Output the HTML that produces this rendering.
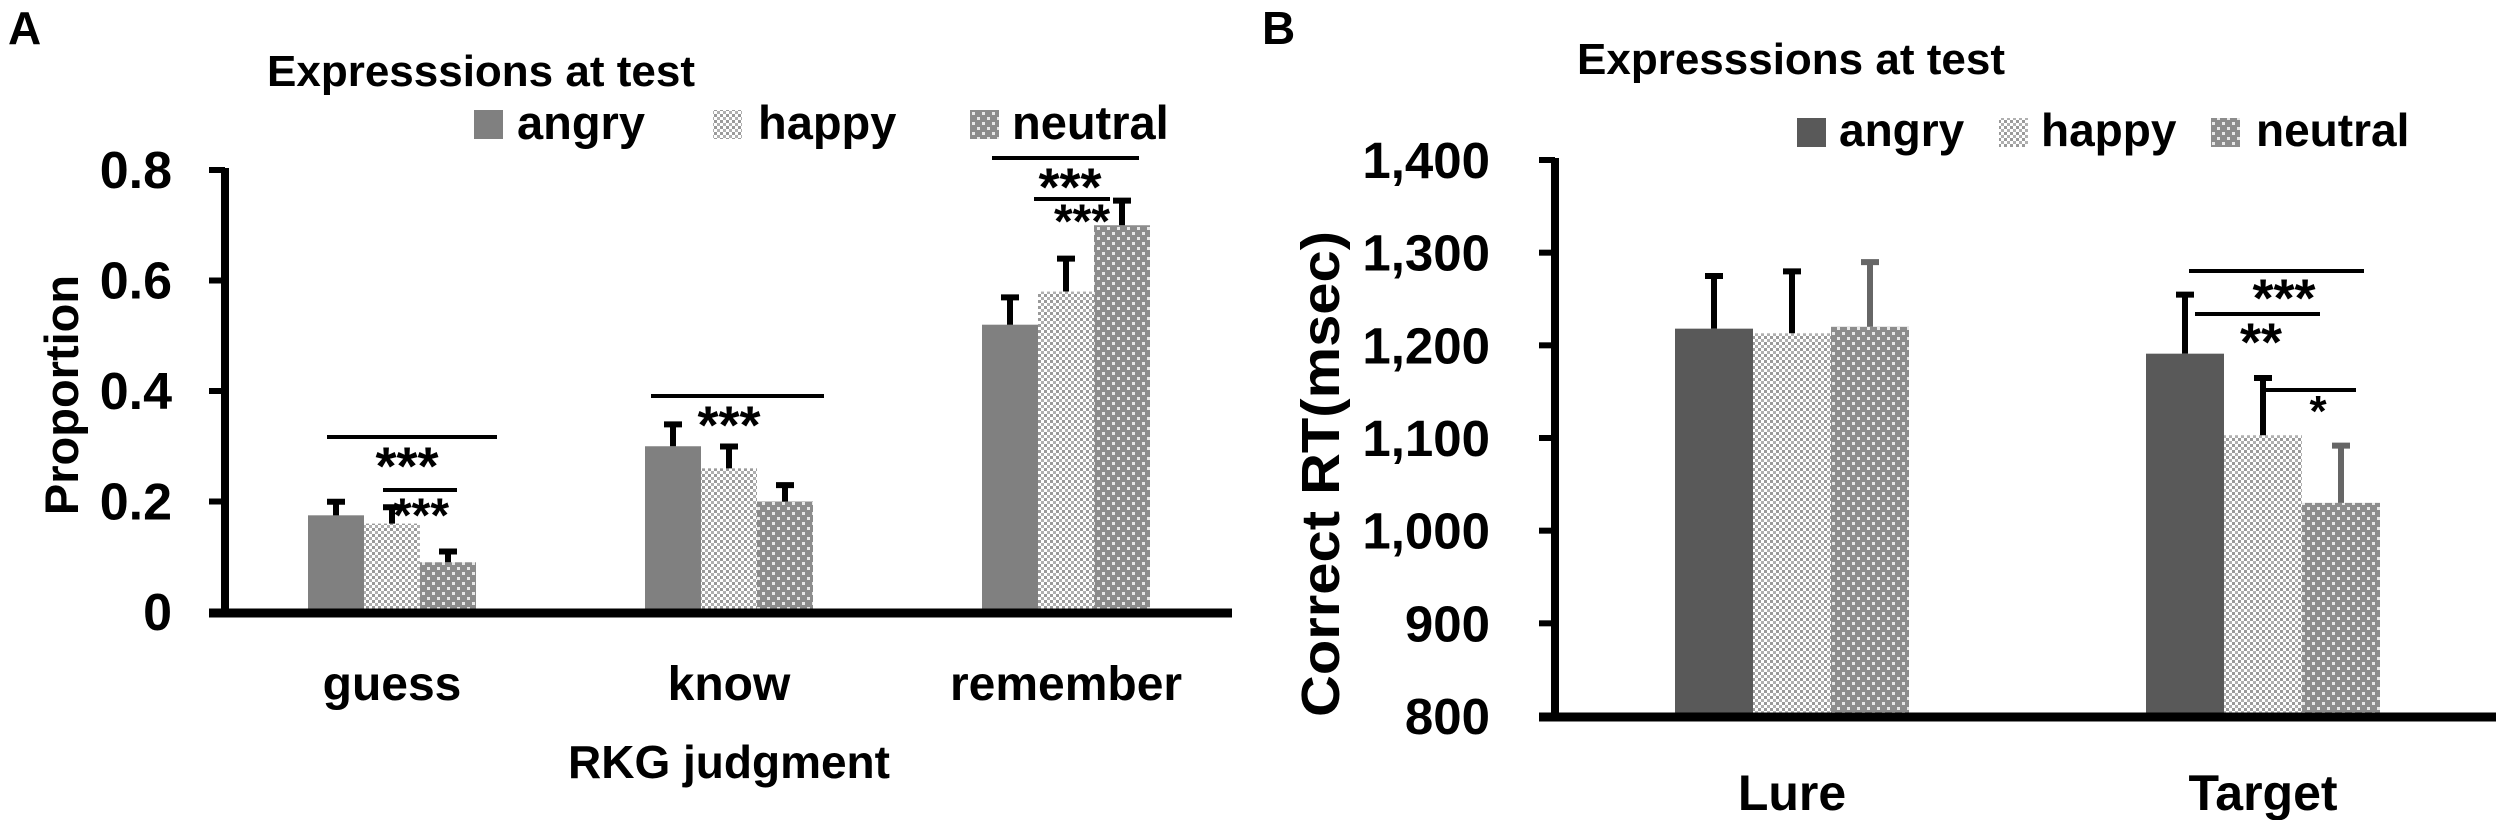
<!DOCTYPE html>
<html><head><meta charset="utf-8"><style>
html,body{margin:0;padding:0;background:#fff}
svg{display:block}
text{font-family:"Liberation Sans",sans-serif;font-weight:bold;fill:#000}
</style></head><body>
<svg id="c" width="2500" height="820" xmlns="http://www.w3.org/2000/svg">
<defs>
<pattern id="pHappy" width="6" height="6" patternUnits="userSpaceOnUse"><rect width="6" height="6" fill="#fff"/><rect x="0" y="0" width="3" height="3" fill="#9a9a9a"/><rect x="3" y="3" width="3" height="3" fill="#b0b0b0"/></pattern>
<pattern id="pNeutral" width="10" height="10" patternUnits="userSpaceOnUse"><rect width="10" height="10" fill="#8c8c8c"/><rect x="2" y="2" width="3" height="3" fill="#e8e8e8"/><rect x="7" y="7" width="3" height="3" fill="#e8e8e8"/></pattern>
</defs>
</svg>
<script>
const catsA=["guess","know","remember"];
const angryA=[0.175,0.30,0.52];
const happyA=[0.16,0.26,0.58];
const neutralA=[0.09,0.20,0.70];
const angryErrA=[0.03,0.045,0.055];
const happyErrA=[0.035,0.045,0.065];
const neutralErrA=[0.025,0.035,0.05];
const ticksA=[0,0.2,0.4,0.6,0.8];
const tickLabelsA=["0","0.2","0.4","0.6","0.8"];
const catsB=["Lure","Target"];
const angryB=[1218,1191];
const happyB=[1213,1103];
const neutralB=[1220,1030];
const angryErrB=[60,67];
const happyErrB=[70,65];
const neutralErrB=[73,65];
const ticksB=[800,900,1000,1100,1200,1300,1400];
const tickLabelsB=["800","900","1,000","1,100","1,200","1,300","1,400"];

const svg=document.getElementById('c');
const NS="http://www.w3.org/2000/svg";
function mk(tag,attrs,parent){const e=document.createElementNS(NS,tag);for(const k in attrs)e.setAttribute(k,attrs[k]);(parent||svg).appendChild(e);return e;}
function txt(x,y,s,size,anchor,name){const t=mk('text',{x:x,y:y,'font-size':size,'text-anchor':anchor||'start'});t.textContent=s;


return t;}

function panel(o){
  const yS=v=>o.y0+(v-o.vmin)/(o.vmax-o.vmin)*(o.y1-o.y0);
  const g=mk('g',{});
  
  
  const series=[[o.a,o.ae,o.angryFill,'angry','#000'],[o.h,o.he,'url(#pHappy)','happy','#000'],[o.n,o.ne,'url(#pNeutral)','neutral',o.nErrColor]];
  o.cats.forEach((c,i)=>{
    series.forEach((s,j)=>{
      const x=o.groupX[i]+j*o.bw;
      const top=yS(s[0][i]);
      const r=mk('rect',{x:x,y:top,width:o.bw,height:o.y0-top,fill:s[2]},g);
      
      
      const et=yS(s[0][i]+s[1][i]);
      const cx=x+o.bw/2;
      const e=mk('path',{d:`M${cx},${top} V${et+3} M${cx-9},${et+3} H${cx+9}`,stroke:s[4],'stroke-width':6,fill:'none'},g);
      
      
    });
    txt(o.groupX[i]+1.5*o.bw,o.catY,c,o.catSize,'middle','category-label-'+c.toLowerCase());
  });
  const ya=mk('line',{x1:o.ax,y1:yS(o.vmax)-2,x2:o.ax,y2:o.y0+4,stroke:'#000','stroke-width':8},g);
  
  
  o.ticks.forEach((t,i)=>{
    const y=yS(t);
    mk('line',{x1:o.ax-16,y1:y,x2:o.ax,y2:y,stroke:'#000','stroke-width':6},g);
    txt(o.ax-o.tickOff,y+18,o.tickLabels[i],o.tickSize,'end','y-tick-label');
  });
  const xa=mk('line',{x1:o.ax-16,y1:o.y0+1,x2:o.xEnd,y2:o.y0+1,stroke:'#000','stroke-width':9},g);
  
  
  o.sig.forEach(s=>{
    const l=mk('line',{x1:s[0],y1:s[2],x2:s[1],y2:s[2],stroke:'#000','stroke-width':4},g);
    
    
    const t=txt(s[3],s[4]+0.55*s[6],s[5],s[6],'middle','significance-stars');
    t.setAttribute('font-weight','normal');
  });
}

panel({name:'panel-a-chart',cats:catsA,a:angryA,h:happyA,n:neutralA,ae:angryErrA,he:happyErrA,ne:neutralErrA,
 angryFill:'#808080',nErrColor:'#000',vmin:0,vmax:0.8,y0:612,y1:170,ax:225,xEnd:1232,
 groupX:[308,645,982],bw:56,catY:700,catSize:48,ticks:ticksA,tickLabels:tickLabelsA,tickSize:52,tickOff:53,
 sig:[[327,497,437,407,455,'***',54],[383,457,490,421,505,'***',48],[651,824,396,729,414,'***',54],[992,1139,158,1070,176,'***',54],[1034,1110,199,1082,211,'***',48]]});
panel({name:'panel-b-chart',cats:catsB,a:angryB,h:happyB,n:neutralB,ae:angryErrB,he:happyErrB,ne:neutralErrB,
 angryFill:'#595959',nErrColor:'#666',vmin:800,vmax:1400,y0:716,y1:160,ax:1555,xEnd:2496,
 groupX:[1675,2146],bw:78,catY:810,catSize:50,ticks:ticksB,tickLabels:tickLabelsB,tickSize:51,tickOff:65,
 sig:[[2189,2364,271,2284,287,'***',54],[2195,2320,314,2261,331,'**',54],[2266,2356,390,2318,402,'*',44]]});

txt(8,44,'A',46,'start','panel-a-label');
txt(1262,44,'B',46,'start','panel-b-label');
txt(267,86,'Expresssions at test',44,'start','panel-a-legend-title');
txt(1577,74,'Expresssions at test',44,'start','panel-b-legend-title');
const yt1=txt(0,0,'Proportion',47,'middle','y-axis-title-a');yt1.setAttribute('transform','translate(78,395) rotate(-90)');
const yt2=txt(0,0,'Correct RT(msec)',54,'middle','y-axis-title-b');yt2.setAttribute('transform','translate(1339,474) rotate(-90)');
yt2.setAttribute('textLength','486');
yt2.setAttribute('lengthAdjust','spacingAndGlyphs');
txt(729,778,'RKG judgment',46,'middle','x-axis-title-a');
function leg(x,y,fill,tx,label,ty,pfx,fs){
  const r=mk('rect',{x:x,y:y,width:29,height:29,fill:fill});
  
  
  txt(tx,ty,label,fs,'start',pfx+'-legend-label-'+label);
}
leg(474,110,'#808080',517,'angry',139,'a',47);
leg(713,110,'url(#pHappy)',758,'happy',139,'a',47);
leg(970,110,'url(#pNeutral)',1012,'neutral',139,'a',47);
leg(1797,118,'#595959',1839,'angry',146,'b',46);
leg(1999,118,'url(#pHappy)',2041,'happy',146,'b',46);
leg(2211,118,'url(#pNeutral)',2256,'neutral',146,'b',46);
</script>
</body></html>
